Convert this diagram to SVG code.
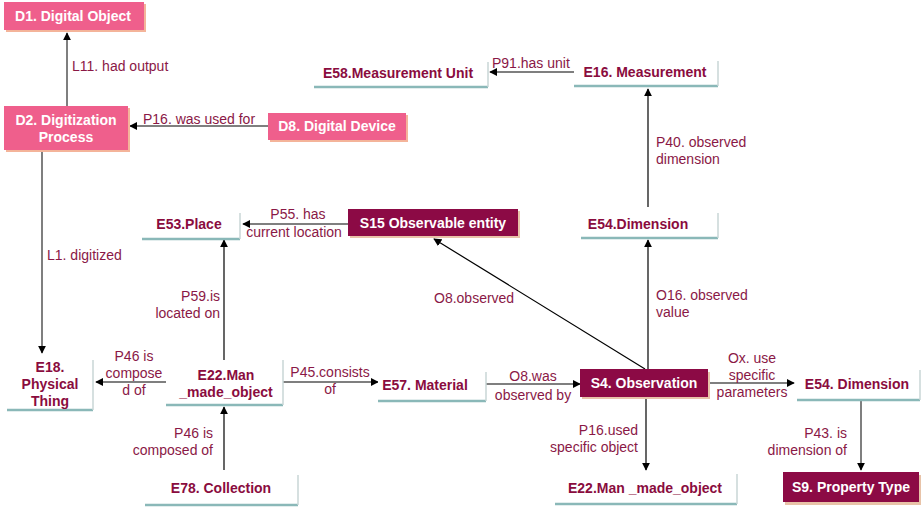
<svg xmlns="http://www.w3.org/2000/svg" width="923" height="507" viewBox="0 0 923 507">
<defs>
<marker id="ah" viewBox="0 0 10 10" refX="9" refY="5" markerWidth="8" markerHeight="8" markerUnits="userSpaceOnUse" orient="auto"><path d="M0,0 L10,5 L0,10 z" fill="#000"/></marker>
<style>
.pink{fill:#ef5f8c}
.pinksh{fill:#f4b49a}
.mar{fill:#8c0a45}
.marsh{fill:#e8c3a8}
.wh{fill:#fff}
.shb{stroke:#8ab8b8;stroke-width:2.5;fill:none}
.shr{stroke:#c9d6d6;stroke-width:1.5;fill:none}
.nt{font-family:"Liberation Sans",Arial,sans-serif;font-size:14px;font-weight:bold;text-anchor:middle}
.ntw{fill:#fff}
.ntm{fill:#8a0c3e}
.lb{font-family:"Liberation Sans",Arial,sans-serif;font-size:14px;fill:#8a1846}
.ln{stroke:#000;stroke-width:1.2;fill:none}
.lg{stroke:#555;stroke-width:1.5;fill:none}
</style>
</defs>
<rect width="923" height="507" fill="#fff"/>

<g id="connectors">
<line class="lg" x1="67" y1="106" x2="67" y2="33" marker-end="url(#ah)"/>
<line class="ln" x1="268" y1="126" x2="130" y2="126" marker-end="url(#ah)"/>
<line class="lg" x1="42" y1="151" x2="42" y2="353" marker-end="url(#ah)"/>
<line class="ln" x1="574" y1="72" x2="490" y2="72" marker-end="url(#ah)"/>
<line class="ln" x1="648" y1="207" x2="648" y2="89" marker-end="url(#ah)"/>
<line class="ln" x1="348" y1="224" x2="243" y2="224" marker-end="url(#ah)"/>
<line class="ln" x1="224" y1="362" x2="224" y2="240" marker-end="url(#ah)"/>
<line class="ln" x1="166" y1="382" x2="96" y2="382" marker-end="url(#ah)"/>
<line class="ln" x1="283" y1="382" x2="378" y2="382" marker-end="url(#ah)"/>
<line class="ln" x1="224" y1="470" x2="224" y2="407" marker-end="url(#ah)"/>
<line class="ln" x1="486" y1="384" x2="580" y2="384" marker-end="url(#ah)"/>
<line class="ln" x1="645" y1="369" x2="434" y2="239" marker-end="url(#ah)"/>
<line class="ln" x1="648" y1="369" x2="648" y2="240" marker-end="url(#ah)"/>
<line class="ln" x1="708" y1="383" x2="794" y2="383" marker-end="url(#ah)"/>
<line class="lg" x1="861" y1="401" x2="861" y2="470" marker-end="url(#ah)"/>
<line class="ln" x1="646" y1="398" x2="646" y2="470" marker-end="url(#ah)"/>

<text class="lb" x="72" y="71">L11. had output</text>
<text class="lb" x="143" y="124">P16. was used for</text>
<text class="lb" x="47" y="260">L1. digitized</text>
<text class="lb" x="492" y="68">P91.has unit</text>
<text class="lb" x="656" y="147">P40. observed</text>
<text class="lb" x="656" y="164">dimension</text>
<text class="lb" x="298" y="219" text-anchor="middle">P55. has</text>
<text class="lb" x="294" y="237" text-anchor="middle">current location</text>
<text class="lb" x="220" y="301" text-anchor="end">P59.is</text>
<text class="lb" x="220" y="318" text-anchor="end">located on</text>
<text class="lb" x="134" y="361" text-anchor="middle">P46 is</text>
<text class="lb" x="134" y="378" text-anchor="middle">compose</text>
<text class="lb" x="134" y="395" text-anchor="middle">d of</text>
<text class="lb" x="330" y="377" text-anchor="middle">P45.consists</text>
<text class="lb" x="330" y="394" text-anchor="middle">of</text>
<text class="lb" x="213" y="438" text-anchor="end">P46 is</text>
<text class="lb" x="213" y="455" text-anchor="end">composed of</text>
<text class="lb" x="533" y="381" text-anchor="middle">O8.was</text>
<text class="lb" x="533" y="400" text-anchor="middle">observed by</text>
<text class="lb" x="434" y="303">O8.observed</text>
<text class="lb" x="656" y="300">O16. observed</text>
<text class="lb" x="656" y="317">value</text>
<text class="lb" x="752" y="363" text-anchor="middle">Ox. use</text>
<text class="lb" x="752" y="380" text-anchor="middle">specific</text>
<text class="lb" x="752" y="397" text-anchor="middle">parameters</text>
<text class="lb" x="847" y="438" text-anchor="end">P43. is</text>
<text class="lb" x="847" y="455" text-anchor="end">dimension of</text>
<text class="lb" x="638" y="435" text-anchor="end">P16.used</text>
<text class="lb" x="638" y="452" text-anchor="end">specific object</text>
</g>

<g id="D1">
<rect class="pinksh" x="6" y="4" width="140" height="28"/>
<rect class="pink" x="4" y="2" width="140" height="28"/>
<text class="nt ntw" x="73" y="21">D1. Digital Object</text>
</g>
<g id="D2">
<rect class="pinksh" x="6" y="108" width="124" height="44"/>
<rect class="pink" x="4" y="106" width="124" height="44"/>
<text class="nt ntw" x="66" y="125">D2. Digitization</text>
<text class="nt ntw" x="66" y="142">Process</text>
</g>
<g id="D8">
<rect class="pinksh" x="270" y="115" width="138" height="27"/>
<rect class="pink" x="268" y="113" width="138" height="27"/>
<text class="nt ntw" x="337" y="131">D8. Digital Device</text>
</g>
<g id="E58">
<rect class="wh" x="314" y="58" width="174" height="29"/>
<path class="shb" d="M314,87 H488"/>
<path class="shr" d="M488,62 V87"/>
<text class="nt ntm" x="398" y="78">E58.Measurement Unit</text>
</g>
<g id="E16">
<rect class="wh" x="574" y="57" width="144" height="29"/>
<path class="shb" d="M574,86 H718"/>
<path class="shr" d="M718,61 V86"/>
<text class="nt ntm" x="645" y="77">E16. Measurement</text>
</g>
<g id="E54a">
<rect class="wh" x="581" y="208" width="137" height="30"/>
<path class="shb" d="M581,238 H718"/>
<path class="shr" d="M718,213 V238"/>
<text class="nt ntm" x="638" y="229">E54.Dimension</text>
</g>
<g id="S15">
<rect class="marsh" x="350" y="211" width="170" height="27"/>
<rect class="mar" x="348" y="209" width="170" height="27"/>
<text class="nt ntw" x="433" y="228">S15 Observable entity</text>
</g>
<g id="E53">
<rect class="wh" x="142" y="213" width="98" height="26"/>
<path class="shb" d="M142,239 H240"/>
<path class="shr" d="M240,213 V239"/>
<text class="nt ntm" x="189" y="229">E53.Place</text>
</g>
<g id="E18">
<rect class="wh" x="7" y="357" width="86" height="53"/>
<path class="shb" d="M7,410 H93"/>
<path class="shr" d="M93,360 V410"/>
<text class="nt ntm" x="50" y="372">E18.</text>
<text class="nt ntm" x="50" y="389">Physical</text>
<text class="nt ntm" x="50" y="406">Thing</text>
</g>
<g id="E22a">
<rect class="wh" x="166" y="360" width="117" height="45"/>
<path class="shb" d="M166,405 H283"/>
<path class="shr" d="M283,360 V405"/>
<text class="nt ntm" x="226" y="380">E22.Man</text>
<text class="nt ntm" x="226" y="397">_made_object</text>
</g>
<g id="E57">
<rect class="wh" x="378" y="370" width="108" height="31"/>
<path class="shb" d="M378,401 H486"/>
<path class="shr" d="M486,372 V401"/>
<text class="nt ntm" x="425" y="390">E57. Material</text>
</g>
<g id="S4">
<rect class="marsh" x="582" y="372" width="128" height="27"/>
<rect class="mar" x="580" y="369" width="128" height="28"/>
<text class="nt ntw" x="644" y="388">S4. Observation</text>
</g>
<g id="E54b">
<rect class="wh" x="797" y="370" width="123" height="30"/>
<path class="shb" d="M797,400 H920"/>
<path class="shr" d="M920,370 V400"/>
<text class="nt ntm" x="857" y="389">E54. Dimension</text>
</g>
<g id="S9">
<rect class="marsh" x="785" y="475" width="136" height="30"/>
<rect class="mar" x="783" y="472" width="136" height="30"/>
<text class="nt ntw" x="851" y="492">S9. Property Type</text>
</g>
<g id="E22b">
<rect class="wh" x="555" y="474" width="182" height="30"/>
<path class="shb" d="M555,504 H737"/>
<path class="shr" d="M737,474 V504"/>
<text class="nt ntm" x="645" y="493">E22.Man _made_object</text>
</g>
<g id="E78">
<rect class="wh" x="145" y="475" width="153" height="30"/>
<path class="shb" d="M145,505 H298"/>
<path class="shr" d="M298,475 V505"/>
<text class="nt ntm" x="221" y="493">E78. Collection</text>
</g>
</svg>
